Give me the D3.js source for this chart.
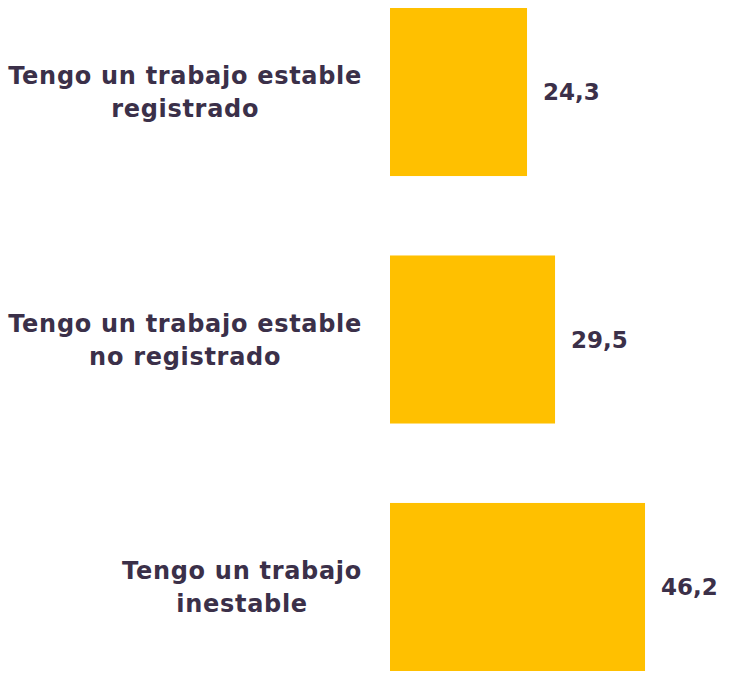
<!DOCTYPE html>
<html>
<head>
<meta charset="utf-8">
<script src="https://cdn.jsdelivr.net/npm/d3@7"></script>
<style>
  html, body { margin: 0; padding: 0; background: #ffffff; }
  svg { display: block; }
</style>
</head>
<body>
<script>
// Categories (each split into the lines it is printed on) and their values
const categories = [
  "Tengo un trabajo estable registrado",
  "Tengo un trabajo estable no registrado",
  "Tengo un trabajo inestable"
];
const categoryLines = [
  ["Tengo un trabajo estable", "registrado"],
  ["Tengo un trabajo estable", "no registrado"],
  ["Tengo un trabajo", "inestable"]
];
const values = [24.3, 29.5, 46.2];
const valueLabels = ["24,3", "29,5", "46,2"];

const W = 739, H = 676;
const barColor = "#FFC000";
const textColor = "#3b3049";
const fontFamily = "'DejaVu Sans', sans-serif";

const svg = d3.select("body").append("svg")
  .attr("width", W).attr("height", H);

const y = d3.scaleBand()
  .domain(categories)
  .range([8, 671])
  .paddingInner(0.321)
  .paddingOuter(0);

const x = d3.scaleLinear()
  .domain([-1.13, 50])
  .range([390, 665.5]);

const rows = categories.map((c, i) => ({
  cat: c, lines: categoryLines[i], value: values[i], label: valueLabels[i]
}));

// Bars
svg.append("g").selectAll("rect")
  .data(rows)
  .join("rect")
  .attr("x", x(x.domain()[0]))
  .attr("y", d => y(d.cat))
  .attr("width", d => x(d.value) - x(x.domain()[0]))
  .attr("height", y.bandwidth())
  .attr("fill", barColor);

// Value labels at the end of each bar
svg.append("g").selectAll("text")
  .data(rows)
  .join("text")
  .attr("x", d => x(d.value) + 16)
  .attr("y", d => y(d.cat) + y.bandwidth() / 2)
  .attr("dy", "0.36em")
  .attr("font-family", fontFamily)
  .attr("font-weight", "bold")
  .attr("font-size", 23)
  .attr("fill", textColor)
  .text(d => d.label);

// Category labels: a block of centred lines, right-aligned against the bars
const labelRight = 362;
const lineGap = 33;
const catG = svg.append("g");
rows.forEach(d => {
  const g = catG.append("g");
  const cy = y(d.cat) + y.bandwidth() / 2;
  const texts = d.lines.map((line, j) => g.append("text")
    .attr("y", cy + (j - (d.lines.length - 1) / 2) * lineGap)
    .attr("dy", "0.36em")
    .attr("text-anchor", "middle")
    .attr("font-family", fontFamily)
    .attr("font-weight", "bold")
    .attr("font-size", 24)
    .attr("letter-spacing", 0.7)
    .attr("fill", textColor)
    .text(line));
  const maxW = d3.max(texts, t => t.node().getBBox().width);
  texts.forEach(t => t.attr("x", labelRight - maxW / 2));
});
</script>
</body>
</html>
